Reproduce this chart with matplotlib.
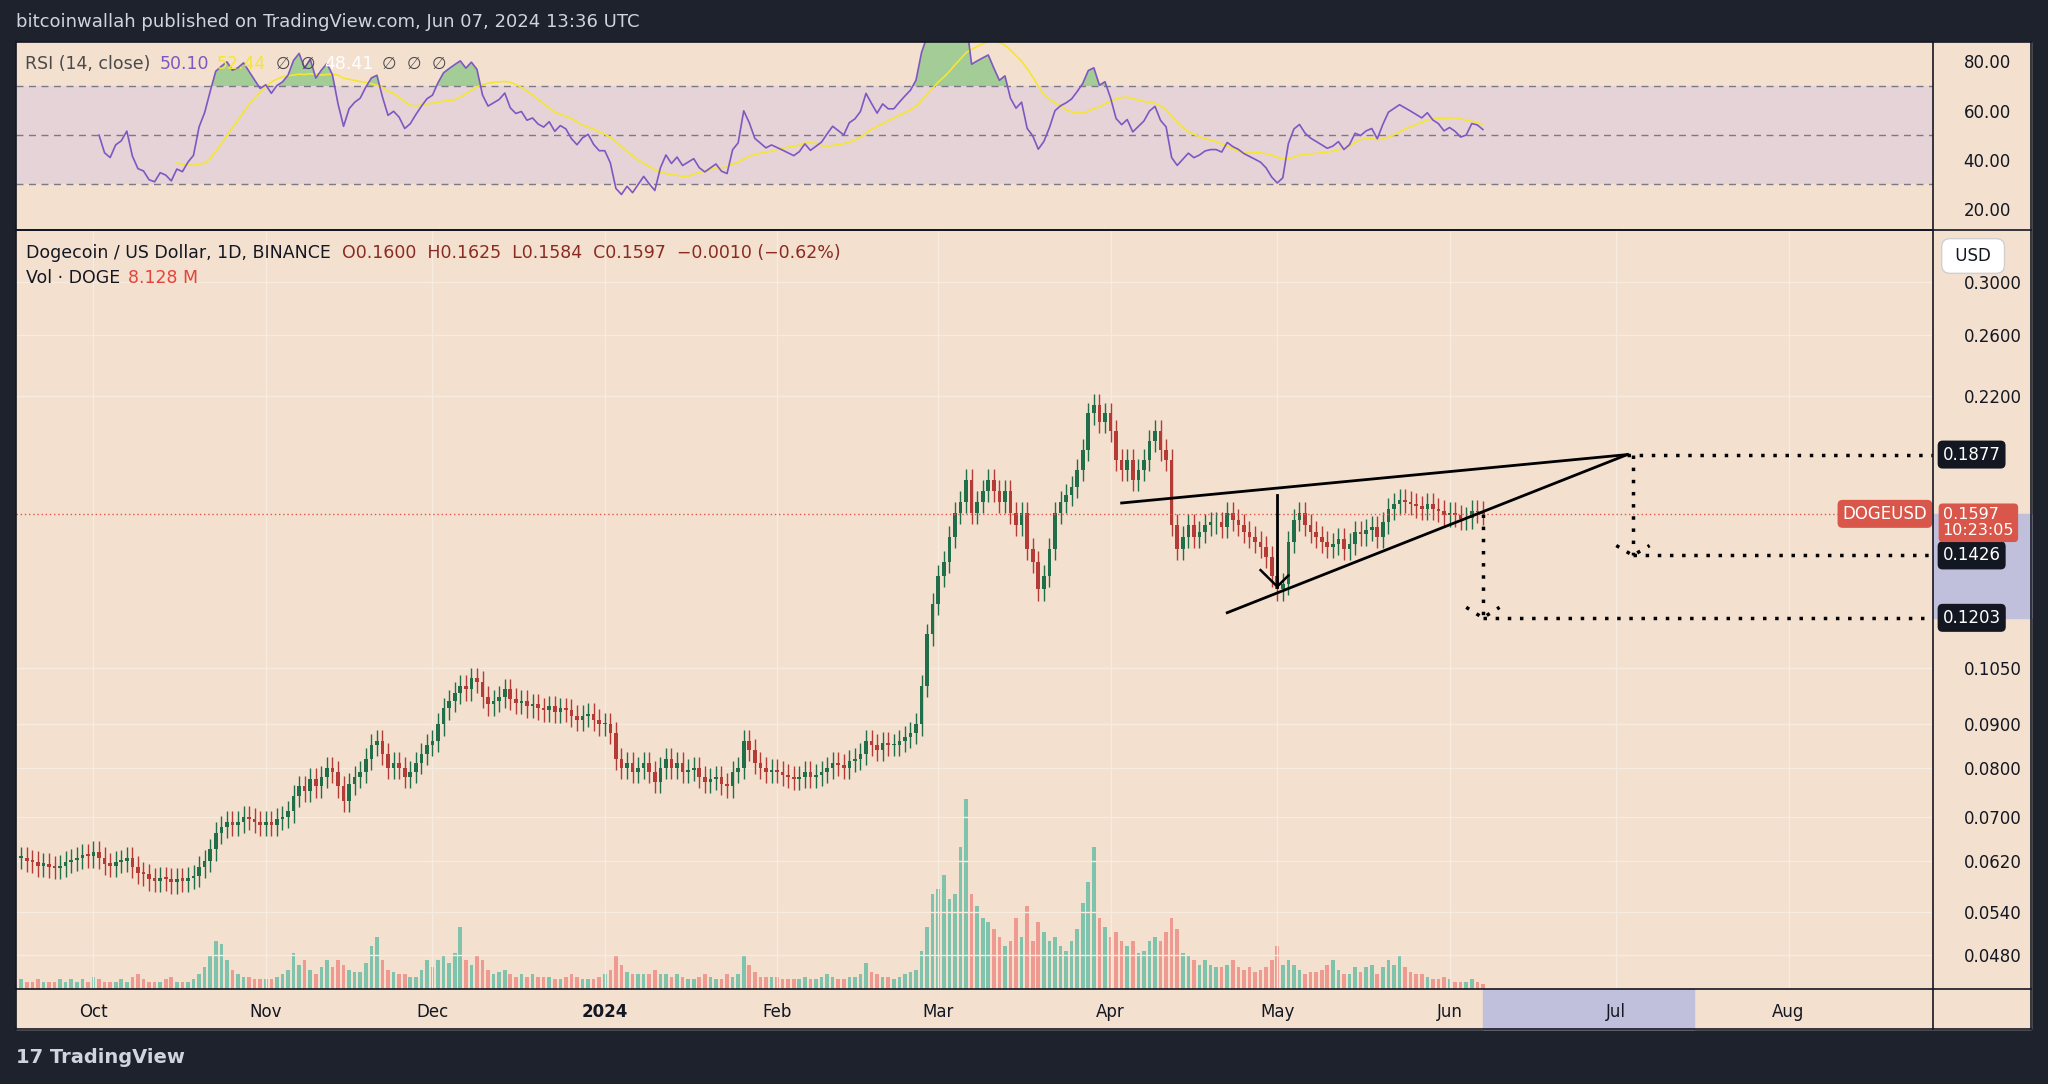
import numpy as np
import matplotlib
matplotlib.use("Agg")
import matplotlib.pyplot as plt
import matplotlib.dates as mdates
from matplotlib.ticker import FixedLocator, NullLocator
import datetime as dt

start = dt.date(2023, 9, 18)
closes = [
0.0625,0.0620,0.0618,0.0612,0.0615,0.0610,0.0608,0.0612,0.0618,0.0622,0.0625,0.0630,0.0628,
0.0635,0.0625,0.0615,0.0612,0.0618,0.0620,0.0625,0.0610,0.0600,0.0598,0.0590,0.0588,0.0592,0.0590,0.0585,0.0590,0.0588,0.0592,0.0595,0.0610,0.0620,0.0640,0.0670,0.0680,0.0690,0.0685,0.0690,0.0700,0.0695,0.0690,0.0685,
0.0690,0.0685,0.0695,0.0700,0.0710,0.0740,0.0760,0.0750,0.0775,0.0760,0.0780,0.0800,0.0790,0.0760,0.0730,0.0765,0.0780,0.0790,0.0820,0.0850,0.0860,0.0830,0.0800,0.0810,0.0800,0.0780,0.0790,0.0810,0.0830,0.0850,
0.0860,0.0900,0.0940,0.0960,0.0980,0.1000,0.0990,0.1020,0.1010,0.0970,0.0950,0.0960,0.0970,0.0990,0.0965,0.0955,0.0960,0.0945,0.0950,0.0940,0.0935,0.0945,0.0930,0.0940,0.0935,0.0920,0.0910,0.0920,0.0925,0.0910,0.0900,
0.0900,0.0880,0.0820,0.0800,0.0810,0.0790,0.0800,0.0810,0.0790,0.0770,0.0800,0.0820,0.0800,0.0810,0.0790,0.0795,0.0800,0.0780,0.0770,0.0775,0.0780,0.0765,0.0760,0.0790,0.0800,0.0860,0.0840,0.0810,0.0800,0.0790,0.0795,
0.0790,0.0785,0.0780,0.0775,0.0780,0.0790,0.0780,0.0785,0.0790,0.0800,0.0810,0.0805,0.0800,0.0815,0.0820,0.0830,0.0860,0.0850,0.0840,0.0855,0.0850,0.0850,0.0860,0.0870,0.0880,0.0900,0.1000,0.1150,0.1250,
0.1350,0.1400,0.1500,0.1600,0.1650,0.1750,0.1600,0.1650,0.1700,0.1750,0.1700,0.1650,0.1700,0.1600,0.1550,0.1600,0.1450,0.1400,0.1300,0.1350,0.1450,0.1600,0.1650,0.1680,0.1720,0.1800,0.1900,0.2100,0.2150,0.2050,0.2100,
0.2000,0.1850,0.1800,0.1850,0.1750,0.1800,0.1850,0.1950,0.2000,0.1900,0.1850,0.1550,0.1450,0.1500,0.1550,0.1500,0.1520,0.1550,0.1560,0.1560,0.1540,0.1600,0.1570,0.1550,0.1520,0.1500,0.1480,0.1460,0.1420,0.1350,
0.1300,0.1320,0.1480,0.1570,0.1600,0.1550,0.1520,0.1500,0.1480,0.1460,0.1470,0.1490,0.1450,0.1470,0.1520,0.1510,0.1530,0.1540,0.1500,0.1560,0.1620,0.1640,0.1660,0.1650,0.1640,0.1630,0.1620,0.1640,0.1620,0.1610,0.1590,
0.1600,0.1590,0.1575,0.1580,0.1610,0.1607,0.1597]
volumes = [
4,3,3,4,3,3,3,4,3,4,3,4,3,
5,4,3,3,3,4,3,5,6,4,3,3,3,4,5,3,3,3,4,6,9,14,20,19,12,8,6,5,5,4,4,
4,4,5,6,8,15,10,12,8,6,9,12,9,12,10,8,7,7,11,18,22,12,8,7,6,6,5,5,8,12,
9,12,14,11,15,26,12,10,14,12,8,6,7,8,6,5,6,5,6,5,5,5,4,4,5,6,5,4,4,4,5,
6,8,14,10,7,6,6,6,6,8,6,6,5,6,5,4,4,5,6,5,4,4,6,5,6,14,10,7,5,5,5,
5,4,4,4,4,5,4,4,5,6,5,4,4,5,5,6,11,7,6,5,5,4,5,6,7,8,16,26,40,
42,48,38,40,60,80,40,35,30,28,25,22,18,20,30,22,35,20,28,24,20,22,18,16,20,25,36,45,60,30,26,
22,24,20,18,20,15,16,20,22,20,24,30,25,15,14,12,10,12,10,9,9,10,12,9,8,9,7,8,9,12,
18,10,12,10,8,6,7,7,8,10,12,8,6,6,9,7,9,10,6,9,12,10,14,9,7,6,6,5,4,4,5,
4,3,3,3,4,3,2]

dates = [start + dt.timedelta(days=i) for i in range(len(closes))]
x = mdates.date2num(dates)
c = np.array(closes)
o = np.concatenate([[c[0]], c[:-1]])
hi = np.maximum(o, c) * 1.03
lo = np.minimum(o, c) * 0.97
v = np.array(volumes)

BG = "#f3e0cf"
DARK = "#1e222d"
UP = "#216e4a"; DN = "#b53c36"
VUP = "#7fc3ad"; VDN = "#ee9a90"

W, H = 1568, 830
def fx(px): return px / W
def fy(py): return 1 - py / H

fig = plt.figure(figsize=(20.48, 10.84), dpi=100, facecolor=DARK)

xmin = mdates.date2num(dt.date(2023, 9, 17))
xmax = mdates.date2num(dt.date(2024, 8, 27))

# RSI panel
axr = fig.add_axes([fx(12), fy(175), fx(1480) - fx(12), fy(32) - fy(175)], facecolor=BG)
delta = np.diff(c, prepend=c[0])
gain = np.where(delta > 0, delta, 0.0); loss = np.where(delta < 0, -delta, 0.0)
ag = np.full(len(c), np.nan); al = np.full(len(c), np.nan)
ag[14] = gain[1:15].mean(); al[14] = loss[1:15].mean()
for i in range(15, len(c)):
    ag[i] = (ag[i-1]*13 + gain[i]) / 14
    al[i] = (al[i-1]*13 + loss[i]) / 14
rsi = 100 - 100 / (1 + ag / np.maximum(al, 1e-12))
ma = np.convolve(np.nan_to_num(rsi), np.ones(14)/14, mode="full")[:len(c)]
ma[:28] = np.nan
axr.axhspan(30, 70, color="#d9c8e0", alpha=0.5, lw=0)
for lvl in (30, 50, 70):
    axr.axhline(lvl, color="#787b86", ls=(0, (5, 4)), lw=1)
axr.fill_between(x, 70, rsi, where=rsi > 70, color="#6fbf73", alpha=0.6, interpolate=True, lw=0)
axr.plot(x, ma, color="#f5e633", lw=1.2)
axr.plot(x, rsi, color="#7e57c2", lw=1.2)
axr.set_xlim(xmin, xmax); axr.set_ylim(12, 88)
axr.yaxis.tick_right()
axr.set_yticks([20, 40, 60, 80]); axr.set_yticklabels(["20.00", "40.00", "60.00", "80.00"])
axr.tick_params(axis="y", length=0, labelsize=12, colors="#131722", pad=22)
axr.xaxis.set_major_locator(NullLocator())
axr.grid(axis="x", color="#f8ebe0", lw=1)
for s in axr.spines.values(): s.set_visible(False)
ly = 0.88
axr.text(0.005, ly, "RSI (14, close)", transform=axr.transAxes, fontsize=12.5, color="#4a4a4a", va="center")
axr.text(0.075, ly, "50.10", transform=axr.transAxes, fontsize=12.5, color="#7e57c2", va="center")
axr.text(0.105, ly, "52.44", transform=axr.transAxes, fontsize=12.5, color="#f5e633", va="center")
axr.text(0.136, ly, "∅  ∅", transform=axr.transAxes, fontsize=12, color="#4a4a4a", va="center")
axr.text(0.161, ly, "48.41", transform=axr.transAxes, fontsize=12.5, color="white", va="center")
axr.text(0.191, ly, "∅  ∅  ∅", transform=axr.transAxes, fontsize=12, color="#4a4a4a", va="center")

# Main panel
ax = fig.add_axes([fx(12), fy(757), fx(1480) - fx(12), fy(177) - fy(757)], facecolor=BG)
ax.set_yscale("log")
ax.set_xlim(xmin, xmax); ax.set_ylim(0.0438, 0.345)
up = c >= o
cols = np.where(up, UP, DN)
ax.vlines(x, lo, hi, colors=cols, lw=1, zorder=3)
bot = np.minimum(o, c); top = np.maximum(o, c)
ax.bar(x, np.maximum(top - bot, 0.0004), bottom=bot, width=0.65, color=cols, zorder=4, lw=0)

# volume
axv = ax.twinx()
axv.set_ylim(0, 80 / 0.25)
axv.bar(x, v, width=0.65, color=np.where(up, VUP, VDN), zorder=2, lw=0)
axv.set_yticks([]); axv.set_xlim(xmin, xmax)
for s in axv.spines.values(): s.set_visible(False)
ax.set_zorder(axv.get_zorder() + 1); ax.patch.set_visible(False)
axv.patch.set_visible(True); axv.patch.set_facecolor(BG)

yt = [0.048, 0.054, 0.062, 0.070, 0.080, 0.090, 0.105, 0.26, 0.22, 0.30]
ax.yaxis.set_major_locator(FixedLocator(yt))
ax.yaxis.set_minor_locator(NullLocator())
ax.set_yticklabels([f"{t:.4f}" for t in yt])
ax.yaxis.tick_right()
ax.tick_params(axis="y", length=0, labelsize=12, colors="#131722", pad=22)
mt = [dt.date(2023, 10, 1), dt.date(2023, 11, 1), dt.date(2023, 12, 1), dt.date(2024, 1, 1),
      dt.date(2024, 2, 1), dt.date(2024, 3, 1), dt.date(2024, 4, 1), dt.date(2024, 5, 1),
      dt.date(2024, 6, 1), dt.date(2024, 7, 1), dt.date(2024, 8, 1)]
ml = ["Oct", "Nov", "Dec", "2024", "Feb", "Mar", "Apr", "May", "Jun", "Jul", "Aug"]
ax.set_xticks(mdates.date2num(mt)); ax.set_xticklabels(ml)
ax.tick_params(axis="x", length=0, labelsize=12, colors="#131722", pad=10)
ax.get_xticklabels()[3].set_fontweight("bold")
ax.grid(True, color="#f8ebe0", lw=1, zorder=0)
axv.grid(False)
for s in ax.spines.values(): s.set_visible(False)

d = lambda y, m, dd: mdates.date2num(dt.date(y, m, dd))
apex = d(2024, 7, 3)
ax.plot([d(2024, 4, 3), apex], [0.1645, 0.1877], color="black", lw=2, zorder=6)
ax.plot([d(2024, 4, 22), apex], [0.122, 0.1877], color="black", lw=2, zorder=6)
ax.plot([d(2024, 5, 1), d(2024, 5, 1)], [0.168, 0.131], color="black", lw=2, zorder=6)
ax.plot([d(2024, 4, 28), d(2024, 5, 1), d(2024, 5, 3)], [0.137, 0.131, 0.135], color="black", lw=1.8, zorder=6)
ax.axhline(0.1597, color="#e0584b", ls=(0, (1, 2)), lw=1, zorder=5)
dot = (0, (1, 2.5))
ax.plot([apex, xmax], [0.1877, 0.1877], color="black", ls=dot, lw=2.5, zorder=6)
ax.plot([d(2024, 7, 4), d(2024, 7, 4)], [0.1877, 0.1426], color="black", ls=dot, lw=2.5, zorder=6)
ax.plot([d(2024, 7, 4), xmax], [0.1426, 0.1426], color="black", ls=dot, lw=2.5, zorder=6)
ax.plot([d(2024, 7, 1), d(2024, 7, 4), d(2024, 7, 7)], [0.1465, 0.1426, 0.1465], color="black", ls=dot, lw=2.5, zorder=6)
ax.plot([d(2024, 6, 7), d(2024, 6, 7)], [0.1597, 0.1203], color="black", ls=dot, lw=2.5, zorder=6)
ax.plot([d(2024, 6, 7), xmax], [0.1203, 0.1203], color="black", ls=dot, lw=2.5, zorder=6)
ax.plot([d(2024, 6, 4), d(2024, 6, 7), d(2024, 6, 10)], [0.1238, 0.1203, 0.1238], color="black", ls=dot, lw=2.5, zorder=6)

trans = ax.get_yaxis_transform()
ax.add_patch(plt.Rectangle((1.0, 0.1203), 0.051, 0.1597 - 0.1203, transform=trans, color="#c0c0dc", clip_on=False, zorder=1))
for val in (0.1877, 0.1426, 0.1203):
    ax.text(1.005, val, f"{val:.4f}", transform=trans, fontsize=12, color="white", va="center", ha="left",
            bbox=dict(boxstyle="round,pad=0.3", fc="#131722", ec="none"), clip_on=False, zorder=8)
ax.text(0.997, 0.1597, "DOGEUSD", transform=trans, fontsize=12, color="white", va="center", ha="right",
        bbox=dict(boxstyle="round,pad=0.3", fc="#d9574a", ec="none"), clip_on=False, zorder=8)
ax.text(1.005, 0.1625, "0.1597\n10:23:05", transform=trans, fontsize=11.5, color="white", va="top", ha="left",
        linespacing=1.05, bbox=dict(boxstyle="round,pad=0.25", fc="#d9574a", ec="none"), clip_on=False, zorder=8)
ax.add_patch(plt.Rectangle((d(2024, 6, 7), -0.053), d(2024, 7, 15) - d(2024, 6, 7), 0.053,
             transform=ax.get_xaxis_transform(), color="#c0c0dc", clip_on=False, zorder=0))

fig.text(fx(20), fy(194), "Dogecoin / US Dollar, 1D, BINANCE", fontsize=12.5, color="#131722", va="center")
fig.text(fx(262), fy(194), "O0.1600  H0.1625  L0.1584  C0.1597  −0.0010 (−0.62%)", fontsize=12.5, color="#8b2a22", va="center")
fig.text(fx(20), fy(213), "Vol · DOGE", fontsize=12.5, color="#131722", va="center")
fig.text(fx(98), fy(213), "8.128 M", fontsize=12.5, color="#e5443a", va="center")
fig.text(fx(1493), fy(196), " USD ", fontsize=12, color="#131722", va="center",
         bbox=dict(boxstyle="round,pad=0.5", fc="white", ec="#d0d0d0"))

fig.text(fx(12), fy(17), "bitcoinwallah published on TradingView.com, Jun 07, 2024 13:36 UTC",
         fontsize=13, color="#d1d4dc", va="center")
fig.text(fx(12), fy(810), "17 TradingView", fontsize=14, color="#d1d4dc", va="center", fontweight="bold")

for yy in (32, 176, 757, 788):
    fig.add_artist(plt.Line2D([fx(12), fx(1555)], [fy(yy), fy(yy)], color="#131722", lw=1.2))
for xx in (12, 1480, 1555):
    fig.add_artist(plt.Line2D([fx(xx), fx(xx)], [fy(32), fy(788)], color="#131722", lw=1.2))
fig.add_artist(plt.Rectangle((fx(1480), fy(788)), fx(1555) - fx(1480), fy(32) - fy(788), color=BG, zorder=-5))
fig.add_artist(plt.Rectangle((fx(12), fy(788)), fx(1480) - fx(12), fy(757) - fy(788), color=BG, zorder=-5))

fig.savefig("out.png", dpi=100, facecolor=DARK)
